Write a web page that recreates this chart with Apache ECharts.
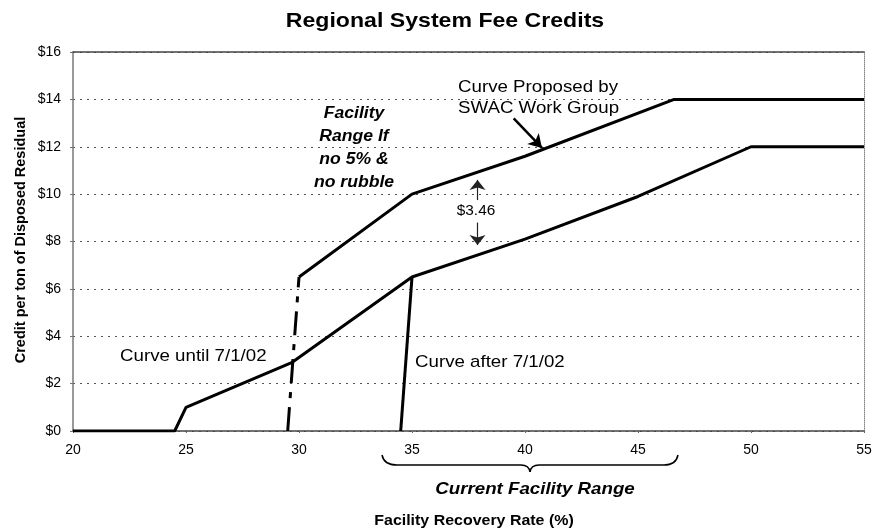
<!DOCTYPE html>
<html>
<head>
<meta charset="utf-8">
<script src="https://cdn.jsdelivr.net/npm/echarts@6/dist/echarts.min.js"></script>
<style>
  html, body { margin: 0; padding: 0; background: #fff; }
  #chart { width: 876px; height: 530px; }
</style>
</head>
<body>
<div id="chart"></div>
<script>
// recovery rate (%) / credit ($ per ton)
const untilRate = [20, 24.5, 25, 29.7, 35, 40, 45, 50, 55]
const untilCredit = [0, 0, 1, 2.9, 6.5, 8.1, 9.9, 12, 12]
const afterRate = [34.5, 35]
const afterCredit = [0, 6.5]
const swacRate = [30, 35, 40, 46.6, 55]
const swacCredit = [6.5, 10, 11.6, 14, 14]
const noRubbleRate = [29.5, 30]
const noRubbleCredit = [0, 6.5]

// annotation arrows, in data units
const gapUp = [[37.9, 9.75], [37.9, 10.6]]
const gapDown = [[37.9, 8.8], [37.9, 7.85]]
const swacPointer = [[39.5, 13.2], [40.75, 11.95]]

const zip = (xs, ys) => xs.map((x, i) => [x, ys[i]])

const font = 'Liberation Sans, Arial, sans-serif'
const ink = '#000'

const chart = echarts.init(document.getElementById('chart'), null, { renderer: 'canvas' })

function arrowLine (pts) {
  return [{ coord: pts[0], symbol: 'none' }, { coord: pts[1], symbol: 'arrow' }]
}

function txt (text, x, y, style) {
  return {
    type: 'text',
    x: x,
    y: y,
    scaleX: 1.1,
    style: Object.assign({
      text: text,
      fill: ink,
      font: '17px ' + font,
      align: 'left',
      verticalAlign: 'middle'
    }, style || {})
  }
}

const braceStyle = { fill: null, stroke: ink, lineWidth: 1.5 }
function curve (x1, y1, cx, cy, x2, y2) {
  return { type: 'bezierCurve', shape: { x1: x1, y1: y1, cpx1: cx, cpy1: cy, x2: x2, y2: y2 }, style: braceStyle }
}
function seg (x1, y1, x2, y2) {
  return { type: 'line', shape: { x1: x1, y1: y1, x2: x2, y2: y2 }, style: braceStyle }
}

chart.setOption({
  animation: false,
  backgroundColor: '#fff',
  grid: { left: 73, right: 12, top: 52, bottom: 99 },
  xAxis: [{
    type: 'value',
    min: 20,
    max: 55,
    interval: 5,
    axisLine: { show: true, onZero: false, lineStyle: { color: '#444', width: 1.5 } },
    axisTick: { show: true, length: 2, lineStyle: { color: '#666' } },
    axisLabel: { color: ink, fontFamily: font, fontSize: 14, margin: 12 },
    splitLine: { show: false }
  }, {
    type: 'value',
    position: 'top',
    min: 20,
    max: 55,
    axisLine: { show: true, onZero: false, lineStyle: { color: '#444', width: 1.5 } },
    axisTick: { show: false },
    axisLabel: { show: false },
    splitLine: { show: false }
  }],
  yAxis: [{
    type: 'value',
    min: 0,
    max: 16,
    interval: 2,
    axisLine: { show: true, onZero: false, lineStyle: { color: '#777', width: 1.5 } },
    axisTick: { show: true, length: 3, lineStyle: { color: '#777' } },
    axisLabel: { color: ink, fontFamily: font, fontSize: 14, margin: 12, formatter: v => '$' + v },
    splitLine: { show: true, lineStyle: { color: '#555', width: 1, type: [2, 5] } }
  }, {
    type: 'value',
    position: 'right',
    min: 0,
    max: 16,
    interval: 2,
    axisLine: { show: true, onZero: false, lineStyle: { color: '#888', width: 1, type: [1, 1] } },
    axisTick: { show: false },
    axisLabel: { show: false },
    splitLine: { show: false }
  }],
  series: [
    {
      name: 'Curve until 7/1/02',
      type: 'line',
      showSymbol: false,
      data: zip(untilRate, untilCredit),
      lineStyle: { color: ink, width: 3 },
      z: 5
    },
    {
      name: 'Curve after 7/1/02',
      type: 'line',
      showSymbol: false,
      data: zip(afterRate, afterCredit),
      lineStyle: { color: ink, width: 3 },
      z: 5
    },
    {
      name: 'Curve Proposed by SWAC Work Group',
      type: 'line',
      showSymbol: false,
      data: zip(swacRate, swacCredit),
      lineStyle: { color: ink, width: 3 },
      z: 5,
      markLine: {
        silent: true,
        symbolSize: [12, 13],
        label: { show: false },
        lineStyle: { color: ink, width: 2.5, type: 'solid' },
        data: [arrowLine(swacPointer)]
      }
    },
    {
      name: 'Facility Range If no 5% & no rubble',
      type: 'line',
      showSymbol: false,
      data: zip(noRubbleRate, noRubbleCredit),
      lineStyle: { color: ink, width: 3, type: [24, 9, 6, 9] },
      z: 5,
      markLine: {
        silent: true,
        symbolSize: [12, 10],
        label: { show: false },
        lineStyle: { color: '#222', width: 1.2, type: 'solid' },
        data: [arrowLine(gapUp), arrowLine(gapDown)]
      }
    }
  ],
  graphic: [
    txt('Regional System Fee Credits', 445, 21, { font: 'bold 21px ' + font, align: 'center' }),
    {
      type: 'text',
      x: 21,
      y: 240,
      rotation: Math.PI / 2,
      style: { text: 'Credit per ton of Disposed Residual', fill: ink, font: 'bold 14.5px ' + font, align: 'center', verticalAlign: 'middle' }
    },
    txt('Facility Recovery Rate (%)', 474, 521, { font: 'bold 14.5px ' + font, align: 'center' }),
    txt('Current Facility Range', 535, 489, { font: 'italic bold 17px ' + font, align: 'center' }),
    curve(382, 455, 384, 465, 397, 465),
    seg(397, 465, 521, 465),
    curve(521, 465, 529, 465, 530, 472),
    curve(530, 472, 531, 465, 539, 465),
    seg(539, 465, 664, 465),
    curve(664, 465, 676, 465, 678, 455),
    txt('Facility\nRange If\nno 5% &\nno rubble', 354, 148, { font: 'italic bold 16px ' + font, align: 'center', lineHeight: 23 }),
    txt('Curve Proposed by\nSWAC Work Group', 458, 98, { lineHeight: 21 }),
    txt('$3.46', 476, 211, { font: '14px ' + font, align: 'center' }),
    txt('Curve until 7/1/02', 120, 356),
    txt('Curve after 7/1/02', 415, 362)
  ]
})
</script>
</body>
</html>
